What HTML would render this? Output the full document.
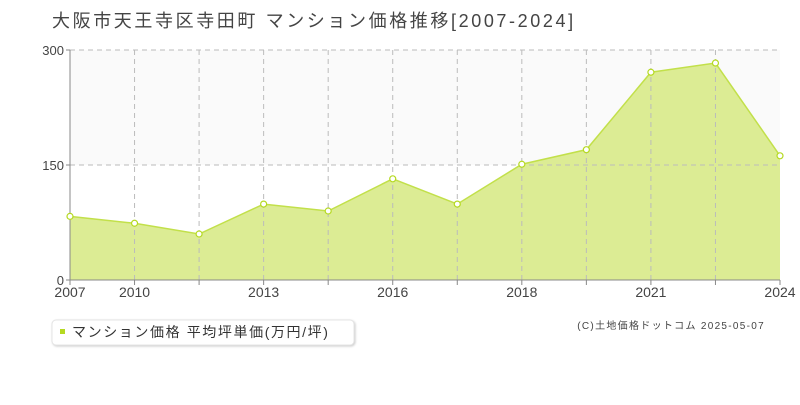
<!DOCTYPE html>
<html><head><meta charset="utf-8"><style>
body{margin:0;background:#fff;width:800px;height:400px;overflow:hidden;font-family:"Liberation Sans","Noto Sans CJK JP",sans-serif}
text{font-family:"Liberation Sans","Noto Sans CJK JP",sans-serif}
</style></head><body>
<svg id="c" width="800" height="400">
<text x="52" y="27" font-size="18" letter-spacing="2.6" fill="#444">大阪市天王寺区寺田町 マンション価格推移[2007-2024]</text>
<g>
<rect x="52" y="320" width="302" height="25" rx="4" fill="#fff" stroke="#e4e4e4" style="filter:drop-shadow(1px 1px 1px #ccc)"/>
<rect x="60" y="329" width="5" height="5" fill="#b5d921"/>
<text x="72" y="337" font-size="14" letter-spacing="1.6" fill="#333">マンション価格 平均坪単価(万円/坪)</text>
</g>
<text x="765" y="329" font-size="10" letter-spacing="1.3" fill="#444" text-anchor="end">(C)土地価格ドットコム 2025-05-07</text>
</svg>
<script>
const categories=["2007","2010","2012","2013","2015","2016","2017","2018","2019","2021","2022","2024"];
const tickLabels=["2007","2010","","2013","","2016","","2018","","2021","","2024"];
const values=[83,74,60,99,90,132,99,151,170,271,283,162];
const yTicks=[0,150,300];
const L=70,R=780,T=50,B=280,yMax=300;
const svg=document.getElementById('c');const NS='http://www.w3.org/2000/svg';
const xs=i=>L+(R-L)*i/(categories.length-1);
const ys=v=>B-(B-T)*v/yMax;
function mk(t,a){const e=document.createElementNS(NS,t);for(const k in a)e.setAttribute(k,a[k]);svg.appendChild(e);return e;}
const bg=mk('rect',{x:L,y:T,width:R-L,height:ys(150)-T,fill:'#fafafa'});


let d=`M${xs(0)},${B}`;values.forEach((v,i)=>d+=` L${xs(i)},${ys(v)}`);d+=` L${xs(values.length-1)},${B}Z`;
const area=mk('path',{d:d,fill:'#dcec94'});


categories.forEach((c,i)=>{if(i>0&&i<categories.length-1){const g=mk('line',{x1:xs(i),x2:xs(i),y1:T,y2:B,stroke:'#bbb','stroke-dasharray':'5,4'});

}});
yTicks.forEach(t=>{if(t>0){const g=mk('line',{x1:L,x2:R,y1:ys(t),y2:ys(t),stroke:'#bbb','stroke-dasharray':'5,4'});

}
const tl=mk('text',{x:L-6,y:ys(t)+5,'font-size':13,fill:'#444','text-anchor':'end'});tl.textContent=t;


const tk=mk('line',{x1:L-4,x2:L,y1:ys(t),y2:ys(t),stroke:'#888'});

});
const ya=mk('line',{x1:L,x2:L,y1:T,y2:B,stroke:'#888'});


const xa=mk('line',{x1:L,x2:R,y1:B,y2:B,stroke:'#888'});


let ld='';values.forEach((v,i)=>ld+=(i?' L':'M')+xs(i)+','+ys(v));
const ln=mk('path',{d:ld,fill:'none',stroke:'#c2e04a','stroke-width':1.5});


categories.forEach((c,i)=>{const tk=mk('line',{x1:xs(i),x2:xs(i),y1:B,y2:B+5,stroke:'#888'});


if(tickLabels[i]){const t=mk('text',{x:xs(i),y:B+17,'font-size':14,fill:'#444','text-anchor':'middle'});t.textContent=tickLabels[i];

}});
values.forEach((v,i)=>{const p=mk('circle',{cx:xs(i),cy:ys(v),r:3,fill:'#fff',stroke:'#b5d921','stroke-width':1.2});

});
</script>
</body></html>
